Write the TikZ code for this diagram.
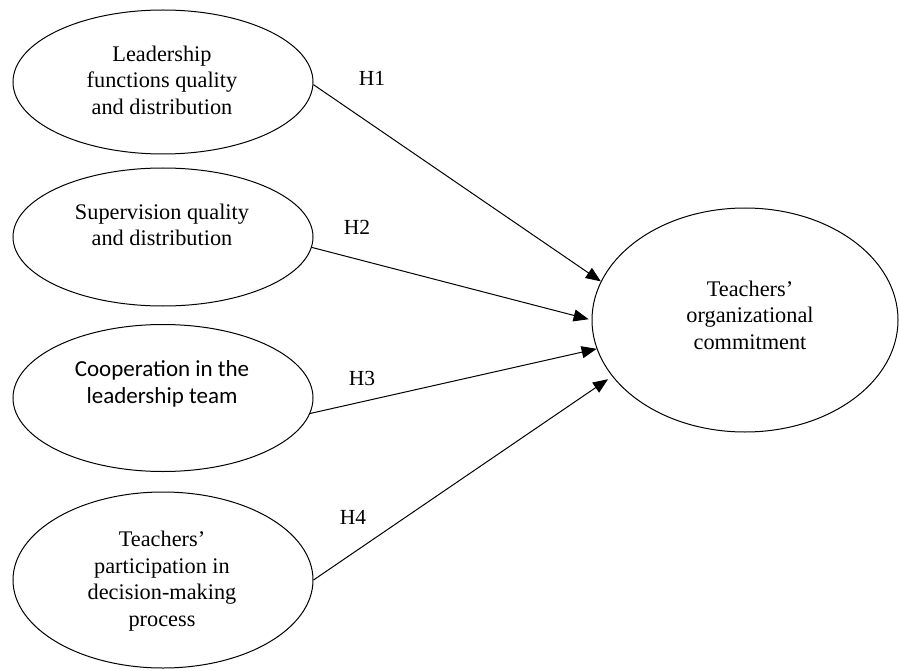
\documentclass[tikz,border=0pt]{standalone}
\usepackage{fontspec}
\setmainfont{Liberation Serif}
\newfontfamily\tnr{Liberation Serif}
\newfontfamily\calib{Carlito}
\usetikzlibrary{arrows.meta,shapes.geometric}
\begin{document}
\begin{tikzpicture}[x=1pt,y=-1pt,
  ell/.style={draw,ellipse,line width=1pt,inner sep=0pt},
  txt/.style={align=center,font=\tnr\fontsize{22.3}{26.5}\selectfont,inner sep=0pt},
  hyp/.style={font=\tnr\fontsize{21.5}{25}\selectfont,inner sep=0pt},
  arr/.style={line width=1pt,-{Triangle[length=15pt,width=12pt]}}]
\useasboundingbox (0,0) rectangle (899,671);
\node[ell,minimum width=300pt,minimum height=144pt] (e1) at (163,82) {};
\node[ell,minimum width=300pt,minimum height=138pt] (e2) at (163,237) {};
\node[ell,minimum width=300pt,minimum height=147pt] (e3) at (163,398) {};
\node[ell,minimum width=300pt,minimum height=176pt] (e4) at (163,580) {};
\node[ell,minimum width=306pt,minimum height=224pt] (R) at (745,320) {};
\node[txt] (t1) at (162,80) {Leadership\\functions quality\\and distribution};
\node[txt] (t2) at (162,225) {Supervision quality\\and distribution};
\node[txt,font=\calib\fontsize{23}{27}\selectfont] (t3) at (162,384) {Cooperation in the\\leadership team};
\node[txt] (t4) at (162,581) {Teachers’\\participation in\\decision-making\\process};
\node[txt] (tR) at (750,315) {Teachers’\\organizational\\commitment};
\node[hyp] (h1) at (372,78) {H1};
\node[hyp] (h2) at (357,227) {H2};
\node[hyp] (h3) at (362,378) {H3};
\node[hyp] (h4) at (353,517) {H4};
\draw[arr] (e1.-1) -- (R.165);
\draw[arr,shorten >=3pt] (e2.-4) -- (R.180);
\draw[arr] (e3.-6) -- (R.191);
\draw[arr,shorten >=5pt] (e4.east) -- (R.203);
\end{tikzpicture}
\end{document}
